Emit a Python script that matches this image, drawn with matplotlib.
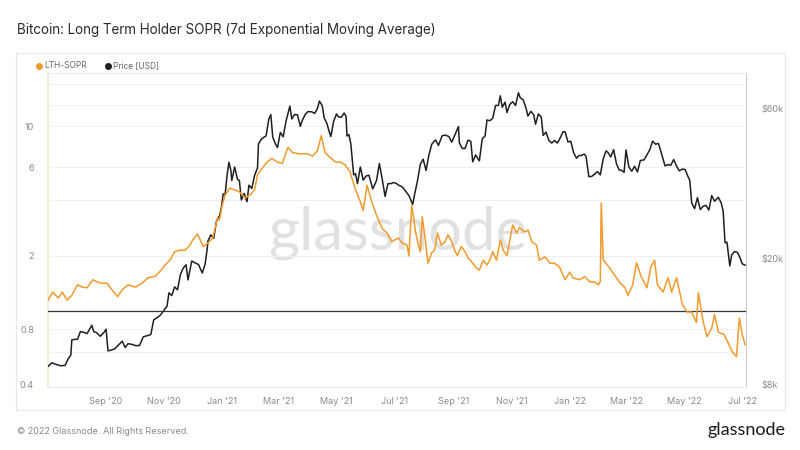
import matplotlib
matplotlib.use('Agg')
import matplotlib.pyplot as plt
import matplotlib.dates as mdates
import pandas as pd
from matplotlib.patches import Rectangle
from matplotlib.lines import Line2D
from matplotlib.transforms import blended_transform_factory
from matplotlib.ticker import FixedLocator, FixedFormatter, NullLocator

plt.rcParams['font.family'] = ['Inter', 'DejaVu Sans']

# ---------------- data ----------------
price_dates = [
    '2020-07-02', '2020-07-06', '2020-07-10', '2020-07-15', '2020-07-20', '2020-07-23', '2020-07-26', '2020-07-27',
    '2020-07-30', '2020-08-02', '2020-08-05', '2020-08-09', '2020-08-12', '2020-08-17', '2020-08-19', '2020-08-22',
    '2020-08-26', '2020-08-30', '2020-09-01', '2020-09-03', '2020-09-06', '2020-09-10', '2020-09-14', '2020-09-18',
    '2020-09-21', '2020-09-24', '2020-09-28', '2020-10-02', '2020-10-06', '2020-10-10', '2020-10-14', '2020-10-18',
    '2020-10-21', '2020-10-25', '2020-10-28', '2020-11-01', '2020-11-04', '2020-11-06', '2020-11-09', '2020-11-12',
    '2020-11-15', '2020-11-18', '2020-11-21', '2020-11-24', '2020-11-26', '2020-11-30', '2020-12-03', '2020-12-07',
    '2020-12-11', '2020-12-14', '2020-12-16', '2020-12-17', '2020-12-20', '2020-12-23', '2020-12-26', '2020-12-29',
    '2020-12-31', '2021-01-02', '2021-01-04', '2021-01-06', '2021-01-08', '2021-01-10', '2021-01-11', '2021-01-14',
    '2021-01-17', '2021-01-19', '2021-01-21', '2021-01-24', '2021-01-27', '2021-01-29', '2021-02-01', '2021-02-04',
    '2021-02-07', '2021-02-08', '2021-02-11', '2021-02-14', '2021-02-16', '2021-02-19', '2021-02-21', '2021-02-23',
    '2021-02-26', '2021-02-28', '2021-03-03', '2021-03-06', '2021-03-09', '2021-03-13', '2021-03-15', '2021-03-18',
    '2021-03-21', '2021-03-24', '2021-03-26', '2021-03-29', '2021-04-01', '2021-04-05', '2021-04-08', '2021-04-11',
    '2021-04-13', '2021-04-16', '2021-04-18', '2021-04-21', '2021-04-23', '2021-04-25', '2021-04-28', '2021-05-01',
    '2021-05-03', '2021-05-06', '2021-05-09', '2021-05-11', '2021-05-12', '2021-05-14', '2021-05-16', '2021-05-19',
    '2021-05-21', '2021-05-23', '2021-05-26', '2021-05-29', '2021-06-01', '2021-06-04', '2021-06-08', '2021-06-12',
    '2021-06-15', '2021-06-18', '2021-06-21', '2021-06-24', '2021-06-27', '2021-06-30', '2021-07-03', '2021-07-06',
    '2021-07-09', '2021-07-13', '2021-07-16', '2021-07-20', '2021-07-22', '2021-07-25', '2021-07-28', '2021-07-31',
    '2021-08-03', '2021-08-06', '2021-08-09', '2021-08-13', '2021-08-16', '2021-08-20', '2021-08-23', '2021-08-27',
    '2021-08-30', '2021-09-02', '2021-09-06', '2021-09-07', '2021-09-10', '2021-09-13', '2021-09-16', '2021-09-19',
    '2021-09-21', '2021-09-24', '2021-09-28', '2021-10-01', '2021-10-04', '2021-10-06', '2021-10-09', '2021-10-12',
    '2021-10-15', '2021-10-18', '2021-10-20', '2021-10-22', '2021-10-25', '2021-10-27', '2021-10-30', '2021-11-02',
    '2021-11-05', '2021-11-08', '2021-11-10', '2021-11-13', '2021-11-16', '2021-11-18', '2021-11-21', '2021-11-24',
    '2021-11-26', '2021-11-29', '2021-12-02', '2021-12-04', '2021-12-07', '2021-12-10', '2021-12-13', '2021-12-16',
    '2021-12-19', '2021-12-22', '2021-12-25', '2021-12-27', '2021-12-30', '2022-01-02', '2022-01-05', '2022-01-08',
    '2022-01-11', '2022-01-13', '2022-01-16', '2022-01-18', '2022-01-21', '2022-01-24', '2022-01-27', '2022-01-30',
    '2022-02-02', '2022-02-05', '2022-02-08', '2022-02-10', '2022-02-13', '2022-02-16', '2022-02-19', '2022-02-22',
    '2022-02-24', '2022-02-27', '2022-03-01', '2022-03-04', '2022-03-07', '2022-03-10', '2022-03-13', '2022-03-16',
    '2022-03-20', '2022-03-23', '2022-03-26', '2022-03-29', '2022-04-01', '2022-04-04', '2022-04-07', '2022-04-11',
    '2022-04-14', '2022-04-17', '2022-04-20', '2022-04-23', '2022-04-26', '2022-04-29', '2022-05-02', '2022-05-05',
    '2022-05-07', '2022-05-09', '2022-05-12', '2022-05-15', '2022-05-18', '2022-05-21', '2022-05-24', '2022-05-27',
    '2022-05-30', '2022-06-02', '2022-06-06', '2022-06-09', '2022-06-11', '2022-06-13', '2022-06-15', '2022-06-18',
    '2022-06-20', '2022-06-23', '2022-06-26', '2022-06-29', '2022-07-01', '2022-07-04',
]
price_values = [
    9100, 9350, 9250, 9150, 9170, 9600, 9900, 11050,
    11100, 11100, 11750, 11680, 11570, 12300, 11750, 11650,
    11350, 11700, 11950, 10200, 10250, 10350, 10650, 10950,
    10450, 10750, 10700, 10600, 10600, 11300, 11400, 11500,
    12800, 13030, 13250, 13750, 14150, 15600, 15300, 16300,
    15950, 17800, 18700, 19150, 17150, 19700, 19450, 19200,
    18050, 19250, 21300, 22800, 23850, 23250, 26450, 27350,
    29000, 32200, 31970, 36800, 40600, 38300, 35500, 39200,
    35800, 35500, 30800, 32300, 30400, 34300, 33500, 36900,
    38900, 46400, 48000, 48800, 49200, 55900, 57500, 48800,
    46300, 45200, 50500, 48900, 54900, 61200, 55700, 57600,
    57400, 52800, 55100, 57500, 58800, 58700, 58000, 60200,
    63500, 61400, 56200, 53800, 51100, 49000, 54800, 57800,
    56600, 56400, 58200, 56700, 49200, 49700, 46400, 37000,
    37300, 34700, 39200, 35600, 36700, 36900, 33400, 35500,
    40200, 35800, 31600, 34700, 34700, 35000, 34700, 34200,
    33900, 32700, 31800, 29800, 32100, 35400, 40000, 41500,
    38200, 42800, 46300, 47800, 45900, 49300, 49500, 49000,
    47000, 49300, 52700, 46800, 44900, 44900, 47700, 47300,
    40700, 42800, 41000, 48200, 49200, 55300, 55000, 56000,
    61500, 61500, 66000, 60700, 63000, 58400, 62000, 63200,
    61500, 67500, 65000, 64100, 60300, 56900, 58900, 57500,
    53600, 57800, 56500, 49400, 50600, 47600, 46700, 47600,
    46700, 48600, 50800, 50700, 47100, 47300, 43500, 41800,
    42700, 42600, 43100, 42400, 36500, 36600, 37200, 37900,
    37000, 41500, 44100, 43600, 42200, 44500, 40100, 38300,
    38300, 37700, 44400, 39200, 38000, 39400, 37800, 41100,
    41300, 42900, 44500, 47400, 46300, 46600, 43500, 39500,
    39900, 39700, 41400, 39500, 38100, 38600, 38500, 36600,
    35500, 30100, 28900, 31300, 28700, 29400, 29600, 28600,
    31800, 30500, 31400, 30100, 28400, 22500, 22600, 19000,
    20600, 21100, 21000, 20100, 19300, 19100,
]

sopr_dates = [
    '2020-07-02', '2020-07-07', '2020-07-13', '2020-07-17', '2020-07-22', '2020-07-27', '2020-08-02', '2020-08-07',
    '2020-08-12', '2020-08-18', '2020-08-26', '2020-09-02', '2020-09-07', '2020-09-13', '2020-09-18', '2020-09-24',
    '2020-10-02', '2020-10-09', '2020-10-15', '2020-10-22', '2020-10-27', '2020-11-02', '2020-11-07', '2020-11-12',
    '2020-11-17', '2020-11-23', '2020-11-28', '2020-12-01', '2020-12-06', '2020-12-12', '2020-12-17', '2020-12-22',
    '2020-12-27', '2020-12-29', '2021-01-01', '2021-01-04', '2021-01-09', '2021-01-14', '2021-01-19', '2021-01-25',
    '2021-01-30', '2021-02-04', '2021-02-07', '2021-02-12', '2021-02-17', '2021-02-22', '2021-02-28', '2021-03-05',
    '2021-03-11', '2021-03-16', '2021-03-23', '2021-03-31', '2021-04-06', '2021-04-11', '2021-04-15', '2021-04-19',
    '2021-04-24', '2021-04-30', '2021-05-05', '2021-05-10', '2021-05-15', '2021-05-20', '2021-05-26', '2021-05-29',
    '2021-06-02', '2021-06-07', '2021-06-12', '2021-06-18', '2021-06-23', '2021-06-28', '2021-07-01', '2021-07-05',
    '2021-07-09', '2021-07-14', '2021-07-16', '2021-07-19', '2021-07-23', '2021-07-26', '2021-07-28', '2021-07-30',
    '2021-08-02', '2021-08-05', '2021-08-09', '2021-08-12', '2021-08-15', '2021-08-19', '2021-08-23', '2021-08-26',
    '2021-08-30', '2021-09-02', '2021-09-05', '2021-09-09', '2021-09-13', '2021-09-16', '2021-09-21', '2021-09-25',
    '2021-09-28', '2021-10-02', '2021-10-06', '2021-10-09', '2021-10-12', '2021-10-16', '2021-10-20', '2021-10-23',
    '2021-10-27', '2021-11-02', '2021-11-06', '2021-11-09', '2021-11-15', '2021-11-18', '2021-11-22', '2021-11-27',
    '2021-11-30', '2021-12-06', '2021-12-11', '2021-12-16', '2021-12-21', '2021-12-27', '2022-01-01', '2022-01-04',
    '2022-01-11', '2022-01-17', '2022-01-22', '2022-01-27', '2022-01-31', '2022-02-02', '2022-02-03', '2022-02-05',
    '2022-02-12', '2022-02-17', '2022-02-22', '2022-02-28', '2022-03-03', '2022-03-08', '2022-03-12', '2022-03-17',
    '2022-03-23', '2022-03-27', '2022-03-31', '2022-04-03', '2022-04-09', '2022-04-14', '2022-04-18', '2022-04-23',
    '2022-04-29', '2022-05-04', '2022-05-09', '2022-05-14', '2022-05-16', '2022-05-21', '2022-05-25', '2022-05-30',
    '2022-06-02', '2022-06-06', '2022-06-12', '2022-06-16', '2022-06-21', '2022-06-25', '2022-06-28', '2022-07-01',
    '2022-07-04',
]
sopr_values = [
    1.15, 1.27, 1.18, 1.27, 1.15, 1.22, 1.39, 1.35,
    1.34, 1.48, 1.42, 1.42, 1.31, 1.20, 1.31, 1.39,
    1.35, 1.42, 1.52, 1.54, 1.63, 1.78, 1.89, 2.10,
    2.14, 2.14, 2.28, 2.43, 2.62, 2.24, 2.34, 2.49,
    3.18, 3.11, 3.75, 4.25, 4.63, 4.53, 4.43, 4.10,
    4.25, 4.53, 5.47, 5.93, 6.40, 6.70, 6.40, 6.30,
    7.70, 7.20, 7.10, 7.10, 6.90, 7.40, 8.90, 7.20,
    6.80, 6.40, 6.40, 6.20, 5.70, 4.70, 3.90, 3.50,
    4.80, 3.90, 3.30, 2.80, 2.65, 2.38, 2.43, 2.49,
    2.34, 2.28, 1.99, 3.75, 2.68, 2.28, 2.10, 3.24,
    2.49, 1.82, 2.07, 2.14, 2.65, 2.28, 2.38, 2.59,
    2.38, 2.14, 2.00, 2.24, 2.10, 1.95, 1.82, 1.71,
    1.67, 1.89, 1.78, 1.89, 2.10, 1.89, 2.43, 2.14,
    2.00, 2.93, 2.65, 2.83, 2.68, 2.75, 2.38, 2.28,
    1.89, 1.97, 1.82, 1.82, 1.74, 1.48, 1.63, 1.52,
    1.48, 1.54, 1.44, 1.44, 1.39, 1.45, 3.85, 1.90,
    1.71, 1.57, 1.44, 1.34, 1.22, 1.39, 1.83, 1.54,
    1.34, 1.74, 1.89, 1.39, 1.27, 1.52, 1.27, 1.52,
    1.10, 0.99, 0.99, 0.87, 1.26, 0.88, 0.73, 0.81,
    0.96, 0.77, 0.75, 0.68, 0.60, 0.57, 0.92, 0.75,
    0.66,
]

sopr_threshold = 1.0
left_ticks = [0.4, 0.8, 2, 6, 10]
left_tick_labels = ['0.4', '0.8', '2', '6', '10']
right_ticks = [8000, 20000, 60000]
right_tick_labels = ['$8k', '$20k', '$60k']
grid_levels = [0.6, 0.8, 2, 4, 6, 10, 13, 17]
x_tick_dates = ['2020-09-01', '2020-11-01', '2021-01-01', '2021-03-01', '2021-05-01', '2021-07-01',
                '2021-09-01', '2021-11-01', '2022-01-01', '2022-03-01', '2022-05-01', '2022-07-01']

ORANGE = '#f39a2b'
BLACK = '#1f1f1f'
W, H = 800, 450

# ---------------- figure ----------------
fig = plt.figure(figsize=(8, 4.5), dpi=100)
fig.patch.set_facecolor('white')

# outer panel
fig.add_artist(Rectangle((16 / W, 1 - 410 / H), (785 - 16) / W, (410 - 53) / H,
                         transform=fig.transFigure, fill=False, edgecolor='#e9e9e9', lw=0.9))

rect = [48 / W, 1 - 387 / H, (746 - 48) / W, (387 - 73) / H]
ax_p = fig.add_axes(rect)
ax_s = fig.add_axes(rect, sharex=ax_p)
ax_s.patch.set_visible(False)

pdates = pd.to_datetime(price_dates)
sdates = pd.to_datetime(sopr_dates)

# price (right axis, below)
ax_p.plot(pdates, price_values, color=BLACK, lw=1.1, zorder=3)
ax_p.set_yscale('log')
ax_p.set_ylim(7830, 78000)
ax_p.yaxis.tick_right()
ax_p.yaxis.set_major_locator(FixedLocator(right_ticks))
ax_p.yaxis.set_major_formatter(FixedFormatter(right_tick_labels))
ax_p.yaxis.set_minor_locator(NullLocator())
ax_p.tick_params(axis='y', length=0, pad=11, labelsize=6.5, labelcolor='#8a8a8a')

# SOPR (left axis, on top)
ax_s.plot(sdates, sopr_values, color=ORANGE, lw=1.1, zorder=3)
ax_s.axhline(sopr_threshold, color='#333333', lw=0.9, zorder=2)
ax_s.set_yscale('log')
ax_s.set_ylim(0.39, 19.4)
ax_s.yaxis.tick_left()
ax_s.yaxis.set_major_locator(FixedLocator(left_ticks))
ax_s.yaxis.set_major_formatter(FixedFormatter(left_tick_labels))
ax_s.yaxis.set_minor_locator(NullLocator())
ax_s.tick_params(axis='y', length=0, pad=10, labelsize=6.5, labelcolor='#8a8a8a')
ax_s.tick_params(axis='x', which='both', bottom=False, labelbottom=False)
for s in ax_s.spines.values():
    s.set_visible(False)

# grid lines (drawn under the price line)
gtrans = blended_transform_factory(ax_p.transAxes, ax_s.transData)
for g in grid_levels:
    ax_p.plot([0, 1], [g, g], transform=gtrans, color='#f1f1f1', lw=0.8, zorder=1)

# x axis
ax_p.set_xlim(pd.Timestamp('2020-07-02'), pd.Timestamp('2022-07-05'))
ax_p.xaxis.set_major_locator(FixedLocator(mdates.date2num(pd.to_datetime(x_tick_dates))))
ax_p.xaxis.set_major_formatter(mdates.DateFormatter("%b '%y"))
ax_p.xaxis.set_minor_locator(NullLocator())
ax_p.tick_params(axis='x', length=0, pad=7, labelsize=6.5, labelcolor='#8a8a8a')

ax_p.spines['left'].set_color('#efe9d6')
ax_p.spines['left'].set_linewidth(1.2)
ax_p.spines['right'].set_color('#c9c9c9')
ax_p.spines['top'].set_color('#eeeeee')
ax_p.spines['bottom'].set_color('#eeeeee')

# watermark
ax_p.text(0.501, 0.49, 'glassnode', transform=ax_p.transAxes, ha='center', va='center',
          fontsize=43, color='#e1e1e1', family=['Lato', 'DejaVu Sans'], zorder=0.5)

# title
fig.text(17 / W, 1 - 30 / H, 'Bitcoin: Long Term Holder SOPR (7d Exponential Moving Average)',
         ha='left', va='center', fontsize=9.7, color='#2b2b2b')

# legend
fig.add_artist(Line2D([39 / W], [1 - 66 / H], marker='o', markersize=4, color=ORANGE,
                      transform=fig.transFigure, linestyle='none'))
fig.text(44 / W, 1 - 66 / H, 'LTH-SOPR', ha='left', va='center', fontsize=6, color='#666666')
fig.add_artist(Line2D([108 / W], [1 - 66 / H], marker='o', markersize=4, color=BLACK,
                      transform=fig.transFigure, linestyle='none'))
fig.text(113 / W, 1 - 66 / H, 'Price [USD]', ha='left', va='center', fontsize=6, color='#666666')

# footer
fig.text(17 / W, 1 - 431 / H, '\u00a9 2022 Glassnode. All Rights Reserved.', ha='left', va='center',
         fontsize=6.5, color='#8a8a8a')
fig.text(785 / W, 1 - 430 / H, 'glassnode', ha='right', va='center', fontsize=13,
         color='#1a1a1a', family=['Lato', 'DejaVu Sans'])

fig.savefig('out.png', dpi=100, facecolor='white')
